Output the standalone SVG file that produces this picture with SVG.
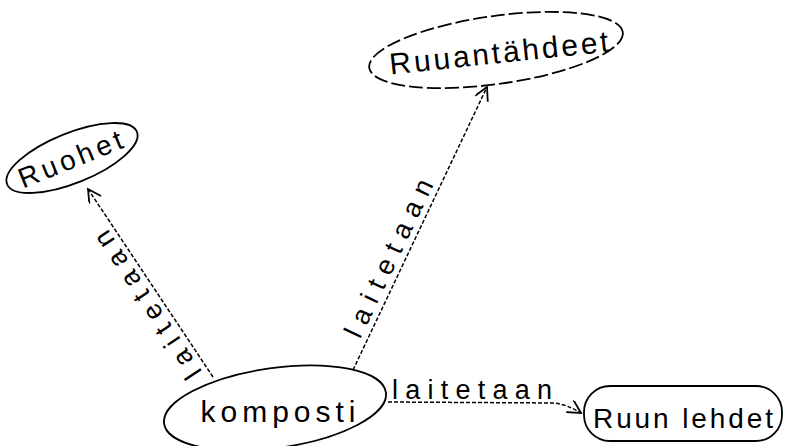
<svg xmlns="http://www.w3.org/2000/svg" width="790" height="446" viewBox="0 0 790 446">
<style>
.node{fill:none;stroke:#000;stroke-width:1.8}
.lbl{font-family:"Liberation Sans","DejaVu Sans",sans-serif;fill:#000;text-anchor:middle}
.edge{fill:none;stroke:#000;stroke-width:1.5;stroke-dasharray:4 2}
.elbl{font-family:"Liberation Sans","DejaVu Sans",sans-serif;fill:#000;text-anchor:middle;font-size:27px}
</style>
<defs>
<marker id="arr" markerUnits="userSpaceOnUse" markerWidth="18" markerHeight="18" refX="14" refY="7" orient="auto">
<path d="M1,0 L14,7 L1,14" fill="none" stroke="#000" stroke-width="1.8"/>
</marker>
</defs>
<rect width="790" height="446" fill="#fff"/>
<g id="edges">
<line class="edge" x1="213" y1="377" x2="88" y2="189" marker-end="url(#arr)"/>
<text class="elbl" transform="translate(155,300) rotate(-123.5)" textLength="172" lengthAdjust="spacing">laitetaan</text>
<line class="edge" x1="353" y1="370" x2="487" y2="87" marker-end="url(#arr)"/>
<text class="elbl" transform="translate(397,262) rotate(-64.6)" textLength="172" lengthAdjust="spacing">laitetaan</text>
<path class="edge" d="M388,402 L555,403 Q568,405 581,413" marker-end="url(#arr)"/>
<text class="elbl" x="472" y="399" textLength="160" lengthAdjust="spacing">laitetaan</text>
</g>
<g id="ruuantahdeet">
<ellipse class="node" cx="496" cy="50" rx="128" ry="34" transform="rotate(-8 496 50)" stroke-dasharray="14 4"/>
<text class="lbl" transform="translate(500,63) rotate(-6)" font-size="30" textLength="220" lengthAdjust="spacing">Ruuantähdeet</text>
</g>
<g id="ruohet">
<ellipse class="node" cx="72" cy="158" rx="70" ry="25" transform="rotate(-22 72 158)"/>
<text class="lbl" transform="translate(74,168) rotate(-22)" font-size="28" textLength="110" lengthAdjust="spacing">Ruohet</text>
</g>
<g id="komposti">
<ellipse class="node" cx="275" cy="408" rx="112" ry="40" transform="rotate(-8 275 408)"/>
<text class="lbl" x="278" y="422" font-size="30" textLength="155" lengthAdjust="spacing">komposti</text>
</g>
<g id="ruunlehdet">
<rect class="node" x="584" y="386" width="198" height="55" rx="26"/>
<text class="lbl" x="683" y="428" font-size="28" textLength="180" lengthAdjust="spacing">Ruun lehdet</text>
</g>
</svg>
